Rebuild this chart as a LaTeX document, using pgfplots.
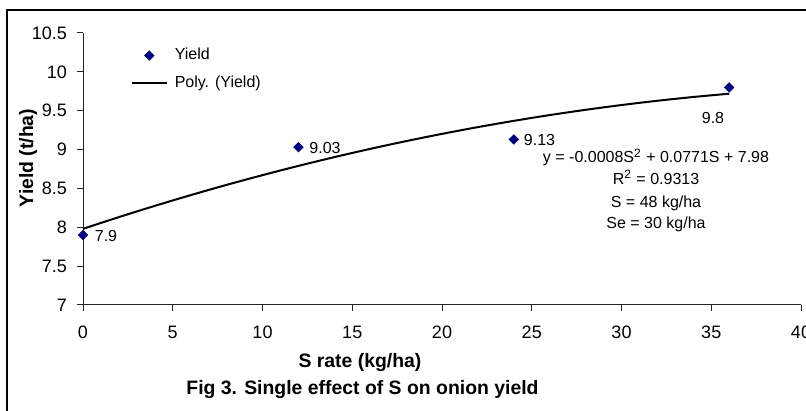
\documentclass[border=0pt]{standalone}
\usepackage{fontspec}
\setmainfont{Liberation Sans}
\usepackage{pgfplots}
\pgfplotsset{compat=1.18}
\definecolor{navyblue}{HTML}{000080}
\begin{document}
\begin{tikzpicture}
\useasboundingbox (0,0) rectangle (403pt,205.5pt);
\draw[line width=1pt] (3.5pt,-2pt) -- (3.5pt,200.5pt) -- (410pt,200.5pt);
\begin{axis}[
  at={(41.5pt,53pt)}, anchor=south west,
  scale only axis, width=359pt, height=136pt,
  xmin=0, xmax=40, ymin=7, ymax=10.5,
  axis x line=bottom, axis y line=left,
  axis line style={-, black!85, line width=0.5pt},
  tick align=outside, major tick length=3pt,
  tick style={black!85, line width=0.5pt},
  xtick={0,5,10,15,20,25,30,35,40},
  ytick={7,7.5,8,8.5,9,9.5,10,10.5},
  yticklabels={7,7.5,8,8.5,9,9.5,10,10.5},
  ticklabel style={font=\fontsize{9}{10}\selectfont, /pgf/number format/assume math mode=true},
  xticklabel style={yshift=-4pt},
  yticklabel style={xshift=-1.5pt},
  clip=false,
  legend image code/.code={\draw[mark repeat=2,mark phase=2,#1] plot coordinates {(0pt,0pt) (8.75pt,0pt) (17.5pt,0pt)};},
  legend style={draw=none, fill=none, at={(0.066,0.960)}, anchor=north west,
    font=\fontsize{8}{9}\selectfont, legend cell align=left, row sep=2.5pt, column sep=1.5pt, inner sep=0pt},
]
\addplot[only marks, mark=diamond*, mark size=2.3pt, mark options={xscale=1.333, fill=navyblue, draw=navyblue}]
  coordinates {(0,7.9) (12,9.03) (24,9.13) (36,9.8)};
\addlegendentry{Yield}
\addplot[black, line width=1pt, smooth] coordinates {
 (0,7.98) (2,8.131) (4,8.2756) (6,8.4138) (8,8.5456) (10,8.671) (12,8.79)
 (14,8.9026) (16,9.0088) (18,9.1086) (20,9.202) (22,9.289) (24,9.3696)
 (26,9.4438) (28,9.5116) (30,9.573) (32,9.628) (34,9.6766) (36,9.7188)};
\addlegendentry{Poly. (Yield)}
\end{axis}
\begin{scope}[every node/.style={font=\fontsize{8}{9}\selectfont, inner sep=0pt}]
\node[anchor=base] at (53pt,84.65pt) {7.9};
\node[anchor=base] at (162.5pt,128.65pt) {9.03};
\node[anchor=base] at (269.75pt,132.65pt) {9.13};
\node[anchor=base] at (356.5pt,143.65pt) {9.8};
\node[anchor=base] at (328pt,124pt) {y = -0.0008S\textsuperscript{2} + 0.0771S + 7.98};
\node[anchor=base] at (328pt,113.25pt) {R\textsuperscript{2} = 0.9313};
\node[anchor=base] at (328pt,101.75pt) {S = 48 kg/ha};
\node[anchor=base] at (328pt,91.25pt) {Se = 30 kg/ha};
\end{scope}
\begin{scope}[every node/.style={font=\fontsize{9.7}{11}\selectfont\bfseries, inner sep=0pt}]
\node[rotate=90] at (14pt,126.5pt) {Yield (t/ha)};
\node at (180pt,24pt) {S rate (kg/ha)};
\node at (181.25pt,10.5pt) {Fig 3. Single effect of S on onion yield};
\end{scope}
\end{tikzpicture}
\end{document}
